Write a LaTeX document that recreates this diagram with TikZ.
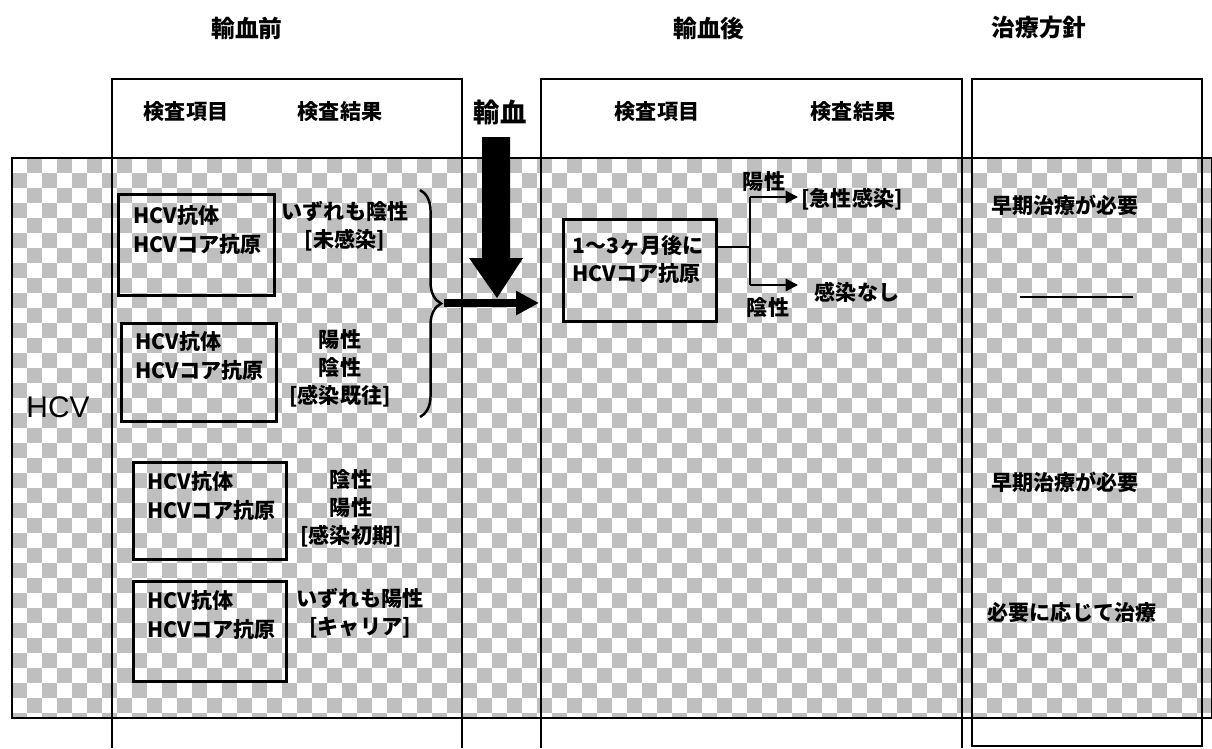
\documentclass[tikz,border=0pt]{standalone}
\usepackage{fontspec}
\setsansfont{Liberation Sans}
\newfontfamily\jp{Noto Sans CJK JP}[BoldFont={Noto Sans CJK JP Black}]
\usetikzlibrary{arrows.meta,decorations.pathreplacing}

\begin{document}
\begin{tikzpicture}[x=0.02cm,y=-0.02cm]
  \tikzset{jtext/.style={font=\jp\bfseries\fontsize{12}{16}\selectfont,inner sep=0pt,align=#1},
    jtext/.default=center,
    title/.style={font=\jp\bfseries\fontsize{13.5}{16}\selectfont,inner sep=0pt},
    test box/.style={draw,line width=1.7pt,anchor=north west,inner sep=0pt},
    column/.style={line width=1.5pt},
    small arrow/.style={line width=1.2pt,-{Triangle[length=7pt,width=7pt]}}}
  \useasboundingbox (0,0) rectangle (1212,748);

  % checkered band
  \begin{scope}
    \clip (12,158) rectangle (1212,718);
    \fill[gray!50] (12,158) rectangle (1212,718);
    \foreach \i in {0,...,40}
      \foreach \j in {0,...,19} {
        \fill[white] (12+30*\i,158+30*\j) rectangle +(15,15);
        \fill[white] (27+30*\i,173+30*\j) rectangle +(15,15);
      }
  \end{scope}
  \draw[line width=1.6pt] (12,158) rectangle (1212,718);

  % columns
  \draw[column] (112,748) -- (112,79) -- (462,79) -- (462,748);
  \draw[column] (541,748) -- (541,79) -- (962,79) -- (962,748);
  \draw[column] (972,79) rectangle (1202,746);

  \node[title] (pre) at (247,28) {輸血前};
  \node[title] (post) at (709,28) {輸血後};
  \node[title] (plan) at (1039,28) {治療方針};

  \node[jtext] (h1) at (186,112) {検査項目};
  \node[jtext] (h2) at (340,112) {検査結果};
  \node[jtext] (h3) at (657,112) {検査項目};
  \node[jtext] (h4) at (853,112) {検査結果};
  \node[title,font=\jp\bfseries\fontsize{15}{18}\selectfont] (tf) at (500,112) {輸血};

  \node[font=\sffamily\fontsize{17}{20}\selectfont,inner sep=0pt] (hcv) at (58,407) {HCV};

  % before transfusion
  \node[test box,minimum width=3.12cm,minimum height=2.02cm] (b1) at (117,193) {};
  \node[test box,minimum width=3.1cm,minimum height=1.96cm] (b2) at (120,322) {};
  \node[test box,minimum width=3.06cm,minimum height=1.94cm] (b3) at (132,461) {};
  \node[test box,minimum width=3.06cm,minimum height=2cm] (b4) at (132,580) {};

  \node[jtext=left,anchor=west] (t1) at (133,230) {HCV抗体\\HCVコア抗原};
  \node[jtext=left,anchor=west] (t2) at (135,356) {HCV抗体\\HCVコア抗原};
  \node[jtext=left,anchor=west] (t3) at (147,496) {HCV抗体\\HCVコア抗原};
  \node[jtext=left,anchor=west] (t4) at (147,615) {HCV抗体\\HCVコア抗原};

  \node[jtext] (r1) at (345,226) {いずれも陰性\\{[未感染]}};
  \node[jtext] (r2) at (340,368) {陽性\\陰性\\{[感染既往]}};
  \node[jtext] (r3) at (351,508) {陰性\\陽性\\{[感染初期]}};
  \node[jtext] (r4) at (360,613) {いずれも陽性\\{[キャリア]}};

  \draw[line width=1.4pt,decorate,decoration={brace,amplitude=12pt}] (420,190) -- (420,417);
  \coordinate (br) at (444,303);
  \coordinate (in) at (539,303);

  % transfusion arrows
  \fill (482,137) -- (510,137) -- (510,258) -- (523,258) -- (497,298)
    -- (469,258) -- (482,258) -- cycle;
  \draw[line width=4.5pt,-{Triangle[length=13pt,width=13pt]}] (br) -- (in);

  % after transfusion
  \node[test box,minimum width=3.06cm,minimum height=2.04cm] (b5) at (562,218) {};
  \node[jtext=left,anchor=west] (t5) at (572,259) {1～3ヶ月後に\\HCVコア抗原};
  \coordinate (fork) at (750,247);
  \coordinate (up) at (750,197);
  \coordinate (dn) at (750,285);
  \coordinate (upend) at (798,197);
  \coordinate (dnend) at (798,285);
  \draw[line width=1.2pt] (b5.east |- fork) -- (fork);
  \draw[line width=1.2pt] (up) -- (dn);
  \draw[small arrow] (up) -- (upend);
  \draw[small arrow] (dn) -- (dnend);
  \node[jtext] (pos) at (764,182) {陽性};
  \node[jtext] (neg) at (768,308) {陰性};
  \node[jtext] (acute) at (852,199) {[急性感染]};
  \node[jtext] (none) at (857,292) {感染なし};

  % treatment
  \node[jtext] (c1) at (1065,205) {早期治療が必要};
  \draw[line width=1.4pt] (1020,297) -- (1133,297);
  \node[jtext] (c2) at (1065,482) {早期治療が必要};
  \node[jtext] (c3) at (1072,612) {必要に応じて治療};
\end{tikzpicture}
\end{document}
